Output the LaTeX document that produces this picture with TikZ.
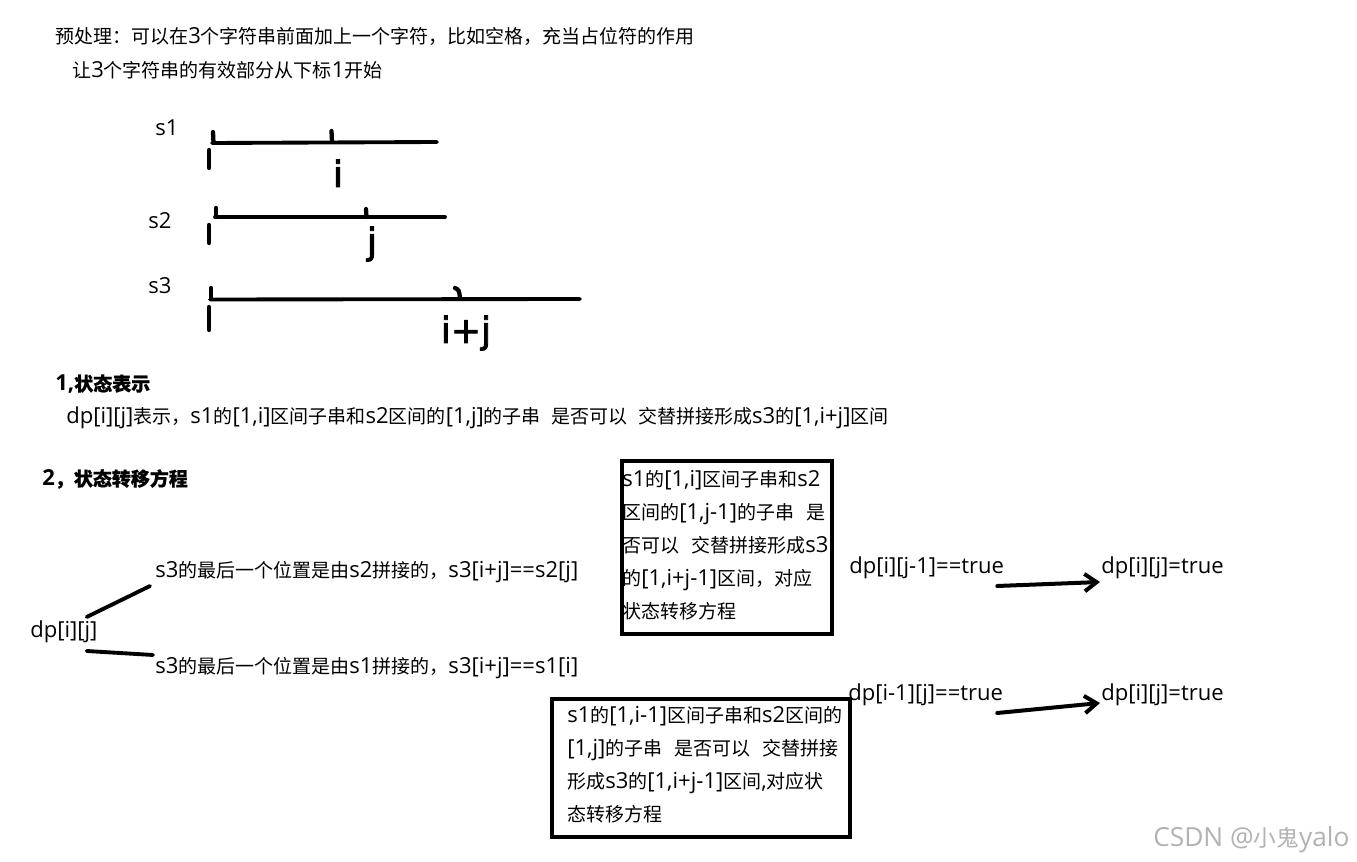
\documentclass[tikz,border=0pt]{standalone}
\usepackage{fontspec}
\setmainfont{Open Sans}[Scale=1.16]
\newfontfamily\zhf{Noto Sans CJK SC}[BoldFeatures={FakeBold=0.6}]
\newfontfamily\hand{DejaVu Sans}[FakeBold=2.5]
\newcommand{\zh}[1]{{\zhf #1}}
\usetikzlibrary{arrows.meta}
\begin{document}
\begin{tikzpicture}[x=0.75pt,y=-0.75pt,
  every node/.style={inner sep=0pt, font=\fontsize{14.25}{24.75}\selectfont},
  txt/.style={anchor=west},
  head/.style={anchor=west, font=\fontsize{14.25}{24.75}\selectfont\bfseries},
  frame/.style={draw, line width=2.9pt, anchor=north west},
  pen/.style={line width=2.9pt, line cap=round},
  tick/.style={line width=3.2pt, line cap=round},
  hw/.style={anchor=base, font=\hand\fontsize{27}{27}\selectfont},
  arr/.style={line width=3pt, line cap=round, -{Straight Barb[length=9pt,width=13pt]}}
]
\fill[white] (0,0) rectangle (1357,862);
\useasboundingbox (0,0) rectangle (1357,862);

% preface
\node[txt] (pre1) at (55,36) {\zh{预处理：可以在}3\zh{个字符串前面加上一个字符，比如空格，充当占位符的作用}};
\node[txt] (pre2) at (72,70) {\zh{让}3\zh{个字符串的有效部分从下标}1\zh{开始}};

% string sketches
\node[txt] (s1) at (155,128) {s1};
\node[txt] (s2) at (148,221) {s2};
\node[txt] (s3) at (148,286) {s3};

\draw[pen] (212,143) -- (437,142);
\draw[tick] (213,132) -- (213.5,143);
\draw[tick] (209,150) -- (209,168);
\draw[tick] (331.5,131) -- (332,142);
\node[hw] (li) at (338,187) {i};

\draw[pen] (215,217) -- (445,217);
\draw[tick] (216,208) -- (216,217);
\draw[tick] (209,225) -- (209,243);
\draw[tick] (366,209) -- (366.5,217);
\node[hw] (lj) at (372,254) {j};

\draw[pen] (210,299.5) -- (580,299);
\draw[tick] (211,288) -- (211,299);
\draw[tick] (209,307) -- (209,330);
\draw[tick] (455,288) .. controls (459,290) .. (460,298);
\node[hw] (lij) at (466,343) {i+j};

% section 1
\node[head] (h1) at (55,384) {1,\zh{状态表示}};
\node[txt] (def) at (66,418) {dp[i][j]\zh{表示，}s1\zh{的}[1,i]\zh{区间子串和}s2\zh{区间的}[1,j]\zh{的子串}\hspace{8pt}\zh{是否可以}\hspace{8pt}\zh{交替拼接形成}s3\zh{的}[1,i+j]\zh{区间}};

% section 2
\node[head] (h2) at (42,479) {2\zh{，状态转移方程}};

\node[txt] (dp) at (30,632) {dp[i][j]};
\node[txt] (c2) at (155,572) {s3\zh{的最后一个位置是由}s2\zh{拼接的，}s3[i+j]==s2[j]};
\node[txt] (c1) at (155,668) {s3\zh{的最后一个位置是由}s1\zh{拼接的，}s3[i+j]==s1[i]};
\draw[pen] ([shift={(-11,-15)}]dp.east) -- ([shift={(-5,14)}]c2.west);
\draw[pen] ([shift={(-11,19)}]dp.east) -- ([shift={(-2,-13)}]c1.west);

% box 1
\node[frame, minimum width=157.5pt, minimum height=129.75pt] (box1) at (620,459) {};
\node[anchor=west, align=left] (bt1) at ([xshift=1.5pt,yshift=1.5pt]box1.west) {s1\zh{的}[1,i]\zh{区间子串和}s2\\\zh{区间的}[1,j-1]\zh{的子串}\hspace{9pt}\zh{是}\\\zh{否可以}\hspace{9pt}\zh{交替拼接形成}s3\\\zh{的}[1,i+j-1]\zh{区间，对应}\\\zh{状态转移方程}};

% box 2
\node[frame, minimum width=223.5pt, minimum height=103.5pt] (box2) at (550,697) {};
\node[anchor=west, align=left] (bt2) at ([xshift=12.75pt,yshift=2.25pt]box2.west) {s1\zh{的}[1,i-1]\zh{区间子串和}s2\zh{区间的}\\{}[1,j]\zh{的子串}\hspace{9pt}\zh{是否可以}\hspace{9pt}\zh{交替拼接}\\\zh{形成}s3\zh{的}[1,i+j-1]\zh{区间},\zh{对应状}\\\zh{态转移方程}};

% transitions
\node[txt] (a1) at (849,568) {dp[i][j-1]==true};
\node[txt] (b1) at (1101,568) {dp[i][j]=true};
\draw[arr] ([shift={(-7,18)}]a1.east) -- ([shift={(-1,14)}]b1.west);
\node[txt] (a2) at (848,695) {dp[i-1][j]==true};
\node[txt] (b2) at (1101,695) {dp[i][j]=true};
\draw[arr] ([shift={(-6,18)}]a2.east) -- ([shift={(-1,8)}]b2.west);

% watermark
\node[txt, text=black!30, font=\fontsize{17}{20}\selectfont] (wm) at (1153,840) {CSDN @\zh{小鬼}yalo};
\end{tikzpicture}
\end{document}
